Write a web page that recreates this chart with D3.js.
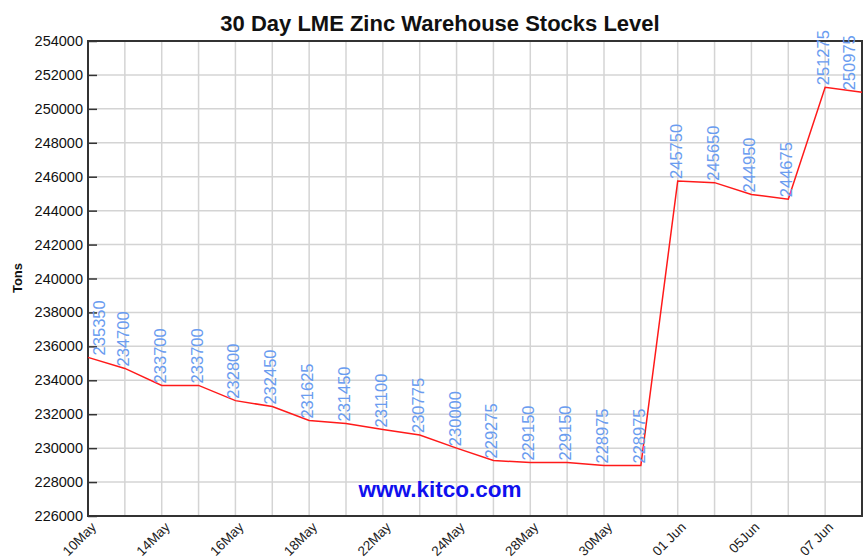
<!DOCTYPE html>
<html>
<head>
<meta charset="utf-8">
<script src="https://cdn.jsdelivr.net/npm/d3@7"></script>
<style>
  body { margin: 0; background: #fff; }
  svg { display: block; font-family: "Liberation Sans", Arial, sans-serif; }
</style>
</head>
<body>
<div id="chart"></div>
<script>
// stock levels, one per trading day
const stocks = [235350, 234700, 233700, 233700, 232800, 232450, 231625, 231450, 231100, 230775,
  230000, 229275, 229150, 229150, 228975, 228975, 245750, 245650, 244950, 244675, 251275, 250975];
// only every other day gets a label
const dayLabels = ["10May", "", "14May", "", "16May", "", "18May", "", "22May", "", "24May", "",
  "28May", "", "30May", "", "01 Jun", "", "05Jun", "", "07 Jun", ""];
const yTicks = d3.range(226000, 254001, 2000);

const width = 868, height = 558;
const m = { left: 88, right: 6, top: 41, bottom: 42 };

const svg = d3.select("#chart").append("svg")
  .attr("width", width)
  .attr("height", height);

const x = d3.scaleLinear().domain([0, stocks.length - 1]).range([m.left, width - m.right]);
const y = d3.scaleLinear().domain([226000, 254000]).range([height - m.bottom, m.top]);

// grid
svg.append("g").selectAll("line.h")
  .data(yTicks)
  .enter().append("line")
  .attr("x1", m.left).attr("x2", width - m.right)
  .attr("y1", d => y(d)).attr("y2", d => y(d))
  .attr("stroke", "#d4d4d4").attr("stroke-width", 1.5);

svg.append("g").selectAll("line.v")
  .data(d3.range(stocks.length))
  .enter().append("line")
  .attr("x1", d => x(d)).attr("x2", d => x(d))
  .attr("y1", m.top).attr("y2", height - m.bottom)
  .attr("stroke", "#d4d4d4").attr("stroke-width", 1.5);

// watermark
svg.append("text")
  .attr("x", 440).attr("y", 497)
  .attr("text-anchor", "middle")
  .attr("font-size", 22.5).attr("font-weight", "bold")
  .attr("fill", "#1010ee")
  .text("www.kitco.com");

// frame
svg.append("rect")
  .attr("x", m.left).attr("y", m.top)
  .attr("width", width - m.right - m.left)
  .attr("height", height - m.bottom - m.top)
  .attr("fill", "none").attr("stroke", "#333").attr("stroke-width", 2);

// y axis
const yAxis = d3.axisRight(y).tickValues(yTicks).tickSize(9).tickFormat(d => "");
const ya = svg.append("g").attr("transform", `translate(${m.left},0)`).call(yAxis);
ya.select(".domain").remove();
ya.selectAll("line").attr("stroke", "#333").attr("stroke-width", 1.5);

svg.append("g").selectAll("text")
  .data(yTicks)
  .enter().append("text")
  .attr("x", m.left - 5).attr("y", d => y(d) + 5)
  .attr("text-anchor", "end")
  .attr("font-size", 14.5).attr("fill", "#111")
  .text(d => d);

// x labels
svg.append("g").selectAll("text")
  .data(dayLabels)
  .enter().append("text")
  .attr("transform", (d, i) => `translate(${x(i) + 9},${height - m.bottom + 12}) rotate(-45)`)
  .attr("text-anchor", "end")
  .attr("font-size", 13.5).attr("fill", "#222")
  .text(d => d);

// line
const line = d3.line().x((d, i) => x(i)).y(d => y(d));
svg.append("path")
  .datum(stocks)
  .attr("d", line)
  .attr("fill", "none")
  .attr("stroke", "#ff1a1a")
  .attr("stroke-width", 1.5);

// value labels, centred on the point but kept inside the frame
const labelX = i => Math.max(m.left + 17, Math.min(width - m.right - 7, x(i) + 4));
svg.append("g").selectAll("text")
  .data(stocks)
  .enter().append("text")
  .attr("transform", (d, i) => `translate(${labelX(i)},${y(d) - 2}) rotate(-90)`)
  .attr("font-size", 16.5).attr("fill", "#6a9cf0")
  .text(d => d);

// title
svg.append("text")
  .attr("x", 440).attr("y", 31)
  .attr("text-anchor", "middle")
  .attr("font-size", 22).attr("font-weight", "bold")
  .attr("fill", "#111")
  .text("30 Day LME Zinc Warehouse Stocks Level");

svg.append("text")
  .attr("transform", "translate(22,278) rotate(-90)")
  .attr("text-anchor", "middle")
  .attr("font-size", 13).attr("font-weight", "bold")
  .attr("fill", "#111")
  .text("Tons");
</script>
</body>
</html>
